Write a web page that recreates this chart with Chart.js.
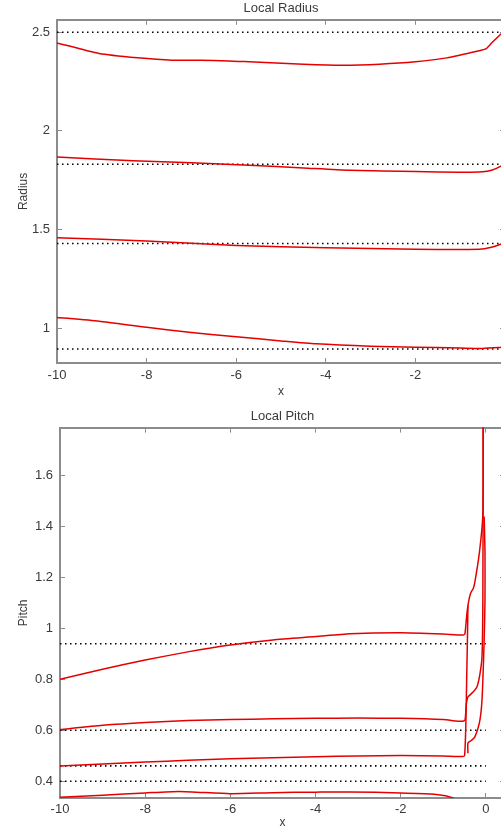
<!DOCTYPE html>
<html>
<head>
<meta charset="utf-8">
<title>Local Radius / Local Pitch</title>
<script src="https://cdn.jsdelivr.net/npm/chart.js@4.4.1/dist/chart.umd.min.js"></script>
<style>
	html, body { margin: 0; padding: 0; background: #fff; overflow: hidden; width: 501px; height: 833px; }
	.plot { position: absolute; left: 0; }
	#radiusBox { top: 0; width: 515px; height: 400px; }
	#pitchBox { top: 400px; width: 510px; height: 433px; }
</style>
</head>
<body>
<div class="plot" id="radiusBox"><canvas id="radiusChart" width="515" height="400"></canvas></div>
<div class="plot" id="pitchBox"><canvas id="pitchChart" width="510" height="433"></canvas></div>
<script>
// local radius, one pair of arrays per branch
var radiusX1 = [-10, -9.06, -8.2, -7.43, -6.5, -5.71, -4.5, -3.63, -2.8, -2, -1.3, -0.6, -0.42, -0.3, -0.12, 0];
var radiusY1 = [2.446, 2.392, 2.37, 2.358, 2.357, 2.35, 2.338, 2.333, 2.338, 2.35, 2.37, 2.405, 2.417, 2.445, 2.485, 2.51];
var radiusX2 = [-10, -8.3, -7, -5.71, -4.5, -3.47, -2, -1, -0.5, -0.3, -0.1, 0];
var radiusY2 = [1.868, 1.848, 1.838, 1.826, 1.812, 1.8, 1.794, 1.79, 1.792, 1.8, 1.82, 1.835];
var radiusX3 = [-10, -8, -6, -4, -2, -0.57, -0.3, -0.1, 0];
var radiusY3 = [1.458, 1.442, 1.419, 1.407, 1.4, 1.4, 1.41, 1.425, 1.43];
var radiusX4 = [-10, -9.06, -8, -7, -6, -5, -4.22, -3, -2, -1, -0.5, 0];
var radiusY4 = [1.054, 1.035, 1.004, 0.978, 0.956, 0.935, 0.92, 0.908, 0.903, 0.899, 0.897, 0.903];
var radiusLevels = [2.5, 1.831, 1.429, 0.894];
var radiusSpan = [-10, 0];

// local pitch branches
var pitchX1 = [-10, -9, -8, -7, -6, -5, -4, -3.19, -2, -1, -0.53, -0.49, -0.45, -0.42, -0.38, -0.34, -0.3, -0.26, -0.15, -0.07, -0.065];
var pitchY1 = [0.8, 0.84, 0.876, 0.908, 0.935, 0.955, 0.968, 0.979, 0.983, 0.978, 0.974, 0.98, 1.05, 1.09, 1.125, 1.145, 1.155, 1.18, 1.3, 1.45, 1.85];
var pitchX2 = [-10, -9, -8, -7, -6, -5, -4, -3, -2, -1, -0.57, -0.49, -0.46, -0.42, -0.3, -0.21, -0.14, -0.09, -0.07, -0.06];
var pitchY2 = [0.603, 0.62, 0.631, 0.638, 0.642, 0.645, 0.647, 0.648, 0.647, 0.642, 0.635, 0.64, 0.7, 0.731, 0.75, 0.77, 0.82, 0.888, 1.11, 1.85];
var pitchX3 = [-10, -9, -8, -7, -6, -5, -4, -3, -2, -1, -0.56, -0.5, -0.47, -0.45, -0.43, -0.42];
var pitchY3 = [0.46, 0.468, 0.475, 0.482, 0.488, 0.492, 0.496, 0.499, 0.501, 0.499, 0.497, 0.5, 0.62, 0.8, 0.98, 1.09];
var pitchX4 = [-0.42, -0.42, -0.34, -0.26, -0.15, -0.09, -0.04, -0.02, -0.02, -0.04];
var pitchY4 = [0.51, 0.55, 0.56, 0.573, 0.63, 0.719, 0.95, 1.11, 1.3, 1.44];
var pitchX5 = [-10, -9, -8, -7.2, -6, -5, -4, -3.19, -2, -1.27, -0.95, -0.77, -0.6];
var pitchY5 = [0.337, 0.345, 0.354, 0.36, 0.351, 0.355, 0.357, 0.358, 0.354, 0.35, 0.343, 0.334, 0.32];
var pitchLevels = [0.94, 0.6, 0.46, 0.4];
var pitchSpan = [-10, 0];

var fontFamily = '"Liberation Sans", Arial, sans-serif';
var axisGrey = '#8c8c8c';
var textColor = '#3a3a3a';

function points(xs, ys) {
	return xs.map(function (x, i) { return { x: x, y: ys[i] }; });
}

function redLine(xs, ys) {
	return {
		data: points(xs, ys),
		showLine: true,
		borderColor: '#e50000',
		borderWidth: 1.5,
		pointRadius: 0,
		tension: 0.2,
		xAxisID: 'x',
		yAxisID: 'y'
	};
}

function dottedLine(level, span) {
	return {
		data: [{ x: span[0], y: level }, { x: span[1], y: level }],
		showLine: true,
		borderColor: '#000',
		borderWidth: 1.6,
		borderDash: [1.5, 3.5],
		pointRadius: 0,
		xAxisID: 'x',
		yAxisID: 'y'
	};
}

function tickText(v) {
	return String(Math.round(v * 100) / 100);
}

function frameAxis(pos, min, max, step) {
	// mirrored axis without labels, only the border and inward ticks
	return {
		type: 'linear',
		position: pos,
		min: min,
		max: max,
		afterFit: function (s) {
			if (pos === 'top') s.height = 0; else s.width = 0;
		},
		ticks: { display: false, stepSize: step, includeBounds: false, autoSkip: false },
		grid: { drawOnChartArea: false, tickLength: -5, color: axisGrey, lineWidth: 1 },
		border: { color: axisGrey, width: 2 }
	};
}

function buildOptions(o) {
	return {
		responsive: false,
		animation: false,
		devicePixelRatio: 1,
		layout: { padding: { left: 0, right: o.padRight, top: 0, bottom: 0 } },
		plugins: {
			legend: { display: false },
			tooltip: { enabled: false },
			title: {
				display: true,
				text: o.title,
				fullSize: false,
				color: textColor,
				font: { family: fontFamily, size: 13, weight: 'normal' },
				padding: o.titlePad
			}
		},
		scales: {
			x: {
				type: 'linear',
				position: 'bottom',
				min: o.xMin,
				max: o.xMax,
				afterFit: function (s) { s.height = o.xHeight; },
				ticks: {
					stepSize: 2, includeBounds: false, autoSkip: false, maxRotation: 0,
					padding: o.xTickPad, color: textColor,
					font: { family: fontFamily, size: 13 },
					// the label sitting on the right frame edge is left blank
					callback: function (v) { return v >= o.xMax ? '' : tickText(v); }
				},
				grid: { drawOnChartArea: false, tickLength: -5, color: axisGrey, lineWidth: 1 },
				border: { color: axisGrey, width: 2 },
				title: {
					display: true, text: 'x', color: textColor,
					font: { family: fontFamily, size: 12 },
					padding: { top: 0, bottom: o.xTitlePad }
				}
			},
			xTop: frameAxis('top', o.xMin, o.xMax, 2),
			y: {
				type: 'linear',
				position: 'left',
				min: o.yMin,
				max: o.yMax,
				afterFit: function (s) { s.width = o.yWidth; },
				ticks: {
					stepSize: o.yStep, includeBounds: false, autoSkip: false,
					padding: 12, color: textColor,
					font: { family: fontFamily, size: 13 },
					callback: tickText
				},
				grid: { drawOnChartArea: false, tickLength: -5, color: axisGrey, lineWidth: 1 },
				border: { color: axisGrey, width: 2 },
				title: {
					display: true, text: o.yTitle, color: textColor,
					font: { family: fontFamily, size: 12 },
					padding: { top: 16, bottom: 0 }
				}
			},
			yRight: frameAxis('right', o.yMin, o.yMax, o.yStep)
		}
	};
}

var radiusSets = [
	redLine(radiusX1, radiusY1),
	redLine(radiusX2, radiusY2),
	redLine(radiusX3, radiusY3),
	redLine(radiusX4, radiusY4)
].concat(radiusLevels.map(function (l) { return dottedLine(l, radiusSpan); }));

new Chart(document.getElementById('radiusChart'), {
	type: 'scatter',
	data: { datasets: radiusSets },
	options: buildOptions({
		title: 'Local Radius',
		titlePad: { top: 0, bottom: 4 },
		padRight: 0,
		xMin: -10, xMax: 0, xHeight: 37, xTickPad: 10, xTitlePad: 1,
		yMin: 0.823, yMax: 2.563, yStep: 0.5, yWidth: 57, yTitle: 'Radius'
	})
});

var pitchSets = [
	redLine(pitchX1, pitchY1),
	redLine(pitchX2, pitchY2),
	redLine(pitchX3, pitchY3),
	redLine(pitchX4, pitchY4),
	redLine(pitchX5, pitchY5)
].concat(pitchLevels.map(function (l) { return dottedLine(l, pitchSpan); }));

new Chart(document.getElementById('pitchChart'), {
	type: 'scatter',
	data: { datasets: pitchSets },
	options: buildOptions({
		title: 'Local Pitch',
		titlePad: { top: 9, bottom: 3 },
		padRight: 5,
		xMin: -10, xMax: 0.45, xHeight: 35, xTickPad: 9, xTitlePad: 3,
		yMin: 0.334, yMax: 1.789, yStep: 0.2, yWidth: 60, yTitle: 'Pitch'
	})
});
</script>
</body>
</html>
